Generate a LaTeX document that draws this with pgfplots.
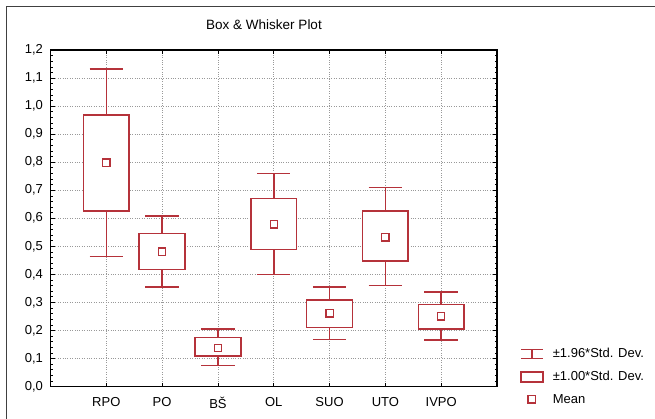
\documentclass[border=0pt]{standalone}
\usepackage{pgfplots}
\pgfplotsset{compat=1.18}
\usepgfplotslibrary{statistics}
\usepackage{fontspec}
\setmainfont{Liberation Sans}
\definecolor{bred}{RGB}{181,50,58}
\begin{document}
\begin{tikzpicture}
\useasboundingbox (0pt,0pt) rectangle (655pt,-419pt);
\draw[line width=1pt, black!75] (6pt,-430pt) -- (6pt,-7pt) -- (670pt,-7pt);
\node[font=\fontsize{13.5}{15}\selectfont] at (264pt,-25pt) {Box \& Whisker Plot};
\begin{axis}[
  at={(50.5pt,-386.5pt)}, anchor=south west,
  width=446.5pt, height=336.5pt, scale only axis,
  xmin=0, xmax=8, ymin=0, ymax=1.2,
  xtick={1,...,7}, xticklabels={RPO,PO,BŠ,OL,SUO,UTO,IVPO},
  ytick={0,0.1,0.2,0.3,0.4,0.5,0.6,0.7,0.8,0.9,1.0,1.1,1.2},
  yticklabel style={xshift=-4pt, /pgf/number format/.cd, fixed, fixed zerofill, precision=1, use comma},
  xticklabel style={yshift=-7pt},
  /pgf/number format/assume math mode=true,
  grid=major, major grid style={dotted, black!40, line width=0.7pt},
  minor y tick num=4,
  tick align=inside, major tick length=4pt, minor tick length=2pt,
  ticklabel style={font=\fontsize{13}{15}\selectfont},
  axis line style={line width=1.1pt},
  tick style={black, line width=0.6pt},
  legend style={at={(1,0)}, anchor=west, xshift=20pt, yshift=10pt, draw=none, fill=none,
    font=\fontsize{13}{15}\selectfont, row sep=8pt,
    /tikz/every odd column/.append style={column sep=7pt}},
  legend cell align=left,
  boxplot/draw direction=y,
  boxplot/box extend=0.82, boxplot/whisker extend=0.6,
  boxplot/every box/.style={draw=bred, line width=1.6pt, fill=white},
  boxplot/every whisker/.style={draw=bred, line width=1.6pt},
  boxplot/every median/.style={draw=none},
]
\addlegendimage{legend image code/.code={\draw[bred, line width=1.6pt] (0pt,4.5pt) -- (22pt,4.5pt) (11pt,4.5pt) -- (11pt,-4.5pt) (0pt,-4.5pt) -- (22pt,-4.5pt);}}
\addlegendentry{±1.96*Std. Dev.}
\addlegendimage{legend image code/.code={\draw[bred, line width=1.6pt] (0pt,-5pt) rectangle (22pt,5pt);}}
\addlegendentry{±1.00*Std. Dev.}
\addlegendimage{legend image code/.code={\draw[bred, line width=1.3pt] (7pt,-3.6pt) rectangle (14.2pt,3.6pt);}}
\addlegendentry{Mean}

\addplot[forget plot, draw=bred, line width=1.6pt, solid, boxplot prepared={draw position=1, lower whisker=0.463, lower quartile=0.626, median=0.797, upper quartile=0.968, upper whisker=1.132}] coordinates {};
\addplot[forget plot, draw=bred, line width=1.6pt, solid, boxplot prepared={draw position=2, lower whisker=0.355, lower quartile=0.417, median=0.481, upper quartile=0.545, upper whisker=0.608}] coordinates {};
\addplot[forget plot, draw=bred, line width=1.6pt, solid, boxplot prepared={draw position=3, lower whisker=0.075, lower quartile=0.109, median=0.138, upper quartile=0.175, upper whisker=0.204}] coordinates {};
\addplot[forget plot, draw=bred, line width=1.6pt, solid, boxplot prepared={draw position=4, lower whisker=0.400, lower quartile=0.488, median=0.578, upper quartile=0.671, upper whisker=0.759}] coordinates {};
\addplot[forget plot, draw=bred, line width=1.6pt, solid, boxplot prepared={draw position=5, lower whisker=0.167, lower quartile=0.211, median=0.261, upper quartile=0.308, upper whisker=0.355}] coordinates {};
\addplot[forget plot, draw=bred, line width=1.6pt, solid, boxplot prepared={draw position=6, lower whisker=0.360, lower quartile=0.448, median=0.532, upper quartile=0.626, upper whisker=0.710}] coordinates {};
\addplot[forget plot, draw=bred, line width=1.6pt, solid, boxplot prepared={draw position=7, lower whisker=0.166, lower quartile=0.206, median=0.250, upper quartile=0.293, upper whisker=0.336}] coordinates {};
\addplot[forget plot, only marks, mark=square*, mark size=3.6pt, mark options={fill=white, draw=bred, line width=1.3pt, solid}] coordinates {(1,0.798) (2,0.481) (3,0.138) (4,0.578) (5,0.261) (6,0.532) (7,0.250)};
\end{axis}
\end{tikzpicture}
\end{document}
